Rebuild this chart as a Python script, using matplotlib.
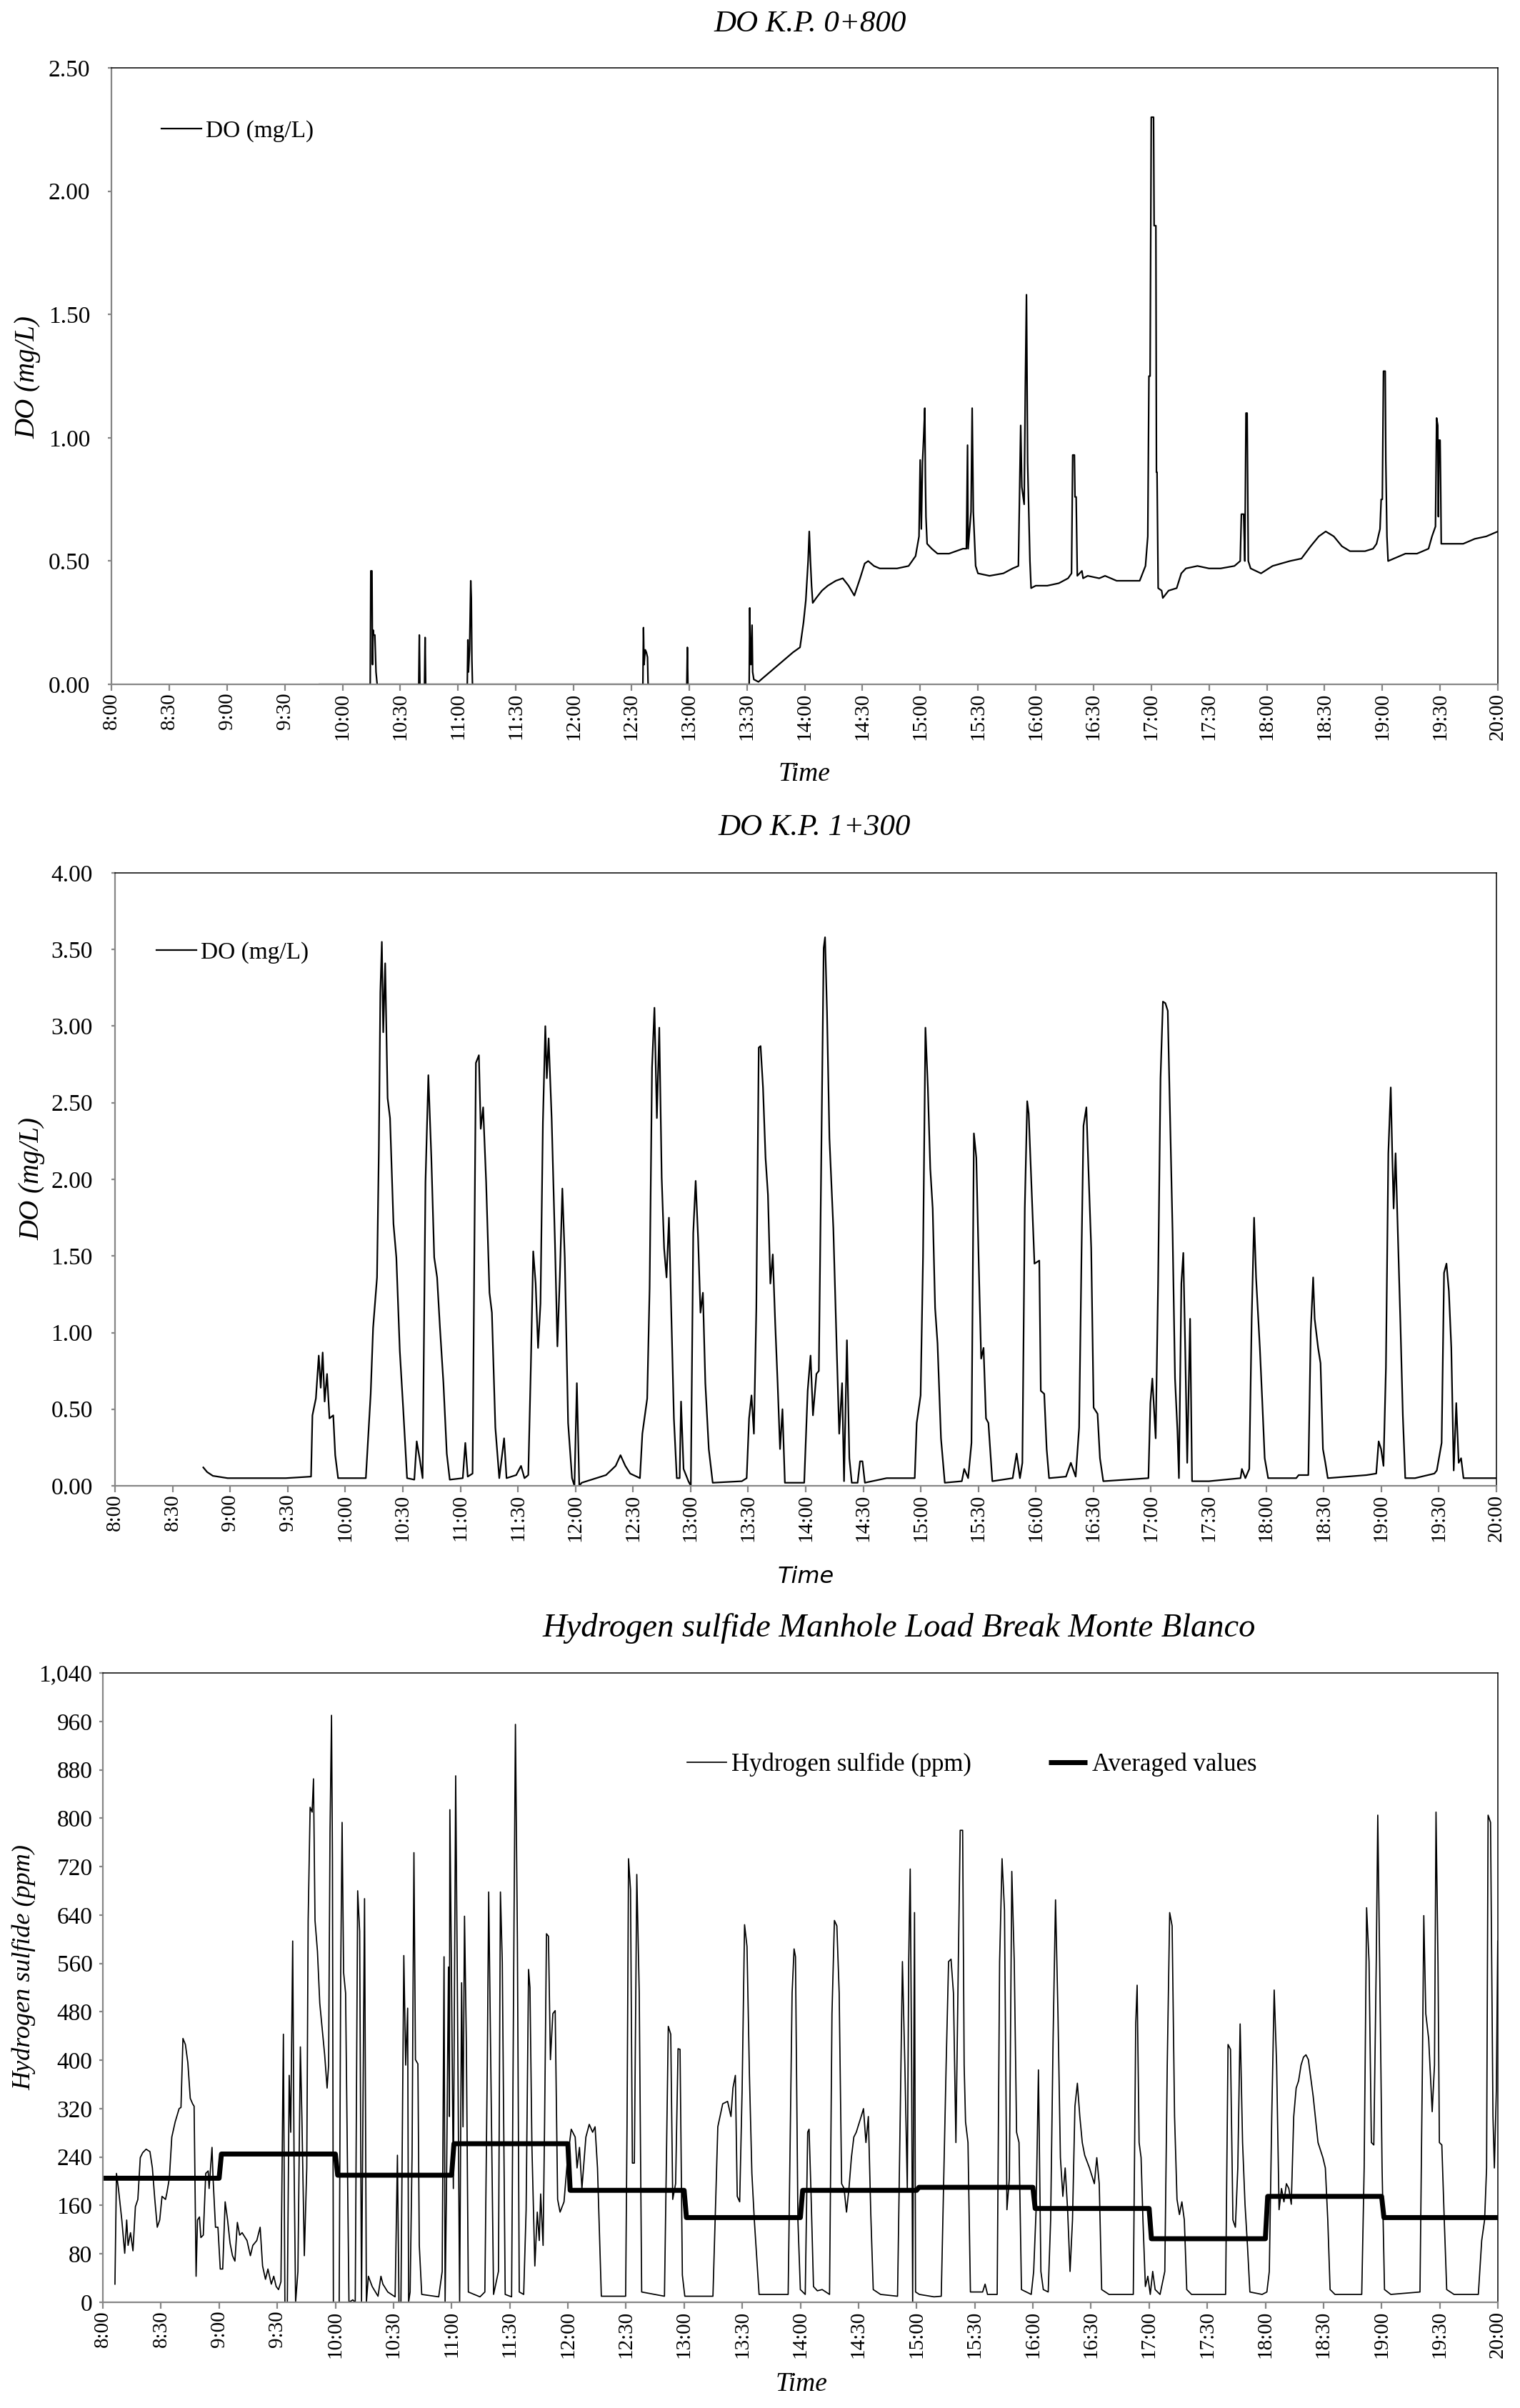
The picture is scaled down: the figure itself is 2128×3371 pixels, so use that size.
import matplotlib
matplotlib.use('Agg')
import matplotlib.pyplot as plt
from matplotlib.ticker import FuncFormatter
import numpy as np

plt.rcParams['font.family'] = ['Liberation Serif', 'DejaVu Serif']

# ---- DO K.P. 0+800 (hour of day, mg/L)
do1_points = [
    (9.80, 0.0), (10.24, 0.0), (10.245, 0.46), (10.255, 0.46), (10.26, 0.08), (10.265, 0.22),
    (10.27, 0.20), (10.28, 0.20), (10.29, 0.05), (10.30, 0.0), (10.66, 0.0), (10.665, 0.20),
    (10.67, 0.0), (10.71, 0.0), (10.715, 0.19), (10.72, 0.0), (11.08, 0.0), (11.085, 0.18),
    (11.09, 0.05), (11.10, 0.14), (11.11, 0.42), (11.115, 0.35), (11.12, 0.10), (11.125, 0.0),
    (12.60, 0.0), (12.605, 0.23), (12.61, 0.08), (12.62, 0.14), (12.63, 0.13), (12.64, 0.11),
    (12.645, 0.0), (12.98, 0.0), (12.985, 0.15), (12.99, 0.0), (13.52, 0.0), (13.525, 0.31),
    (13.53, 0.10), (13.535, 0.08), (13.545, 0.24), (13.55, 0.05), (13.56, 0.02), (13.60, 0.01),
    (13.70, 0.05), (13.80, 0.09), (13.90, 0.13), (13.96, 0.15), (13.99, 0.25), (14.01, 0.34),
    (14.03, 0.50), (14.04, 0.62), (14.05, 0.50), (14.06, 0.40), (14.07, 0.33), (14.10, 0.35),
    (14.15, 0.38), (14.20, 0.40), (14.27, 0.42), (14.33, 0.43), (14.38, 0.40), (14.43, 0.36),
    (14.48, 0.43), (14.52, 0.49), (14.55, 0.50), (14.60, 0.48), (14.65, 0.47), (14.80, 0.47),
    (14.90, 0.48), (14.96, 0.52), (14.99, 0.60), (15.00, 0.91), (15.01, 0.63), (15.02, 0.90),
    (15.03, 1.00), (15.04, 1.12), (15.045, 0.84), (15.05, 0.68), (15.06, 0.57), (15.10, 0.55),
    (15.15, 0.53), (15.25, 0.53), (15.37, 0.55), (15.40, 0.55), (15.41, 0.97), (15.415, 0.55),
    (15.44, 0.70), (15.45, 1.12), (15.46, 0.70), (15.48, 0.48), (15.50, 0.45), (15.60, 0.44),
    (15.72, 0.45), (15.80, 0.47), (15.85, 0.48), (15.87, 1.05), (15.88, 0.80), (15.90, 0.73),
    (15.91, 1.20), (15.92, 1.58), (15.93, 0.90), (15.95, 0.50), (15.96, 0.39), (16.00, 0.40),
    (16.10, 0.40), (16.20, 0.41), (16.28, 0.43), (16.31, 0.45), (16.32, 0.93), (16.335, 0.93),
    (16.34, 0.76), (16.35, 0.76), (16.36, 0.44), (16.40, 0.46), (16.41, 0.43), (16.45, 0.44),
    (16.55, 0.43), (16.60, 0.44), (16.70, 0.42), (16.90, 0.42), (16.95, 0.48), (16.97, 0.60),
    (16.98, 1.25), (16.99, 1.25), (17.00, 2.30), (17.02, 2.30), (17.025, 1.86), (17.04, 1.86),
    (17.045, 0.86), (17.05, 0.86), (17.06, 0.39), (17.09, 0.38), (17.10, 0.35), (17.15, 0.38),
    (17.22, 0.39), (17.26, 0.45), (17.30, 0.47), (17.40, 0.48), (17.50, 0.47), (17.60, 0.47),
    (17.72, 0.48), (17.77, 0.50), (17.78, 0.69), (17.80, 0.69), (17.81, 0.50), (17.82, 1.10),
    (17.83, 1.10), (17.84, 0.50), (17.86, 0.47), (17.95, 0.45), (18.05, 0.48), (18.20, 0.50),
    (18.30, 0.51), (18.38, 0.56), (18.45, 0.60), (18.51, 0.62), (18.58, 0.60), (18.65, 0.56),
    (18.72, 0.54), (18.85, 0.54), (18.92, 0.55), (18.95, 0.57), (18.98, 0.63), (18.99, 0.75),
    (19.00, 0.75), (19.01, 1.27), (19.025, 1.27), (19.03, 0.91), (19.04, 0.60), (19.05, 0.50),
    (19.10, 0.51), (19.20, 0.53), (19.30, 0.53), (19.40, 0.55), (19.43, 0.60), (19.46, 0.64),
    (19.47, 1.08), (19.48, 1.05), (19.485, 0.68), (19.49, 0.99), (19.50, 0.99), (19.505, 0.80),
    (19.51, 0.57), (19.60, 0.57), (19.70, 0.57), (19.80, 0.59), (19.90, 0.60), (20.00, 0.62),
]

# ---- DO K.P. 1+300
do2_points = [
    (8.767, 0.12), (8.80, 0.09), (8.85, 0.065), (8.978, 0.05), (9.483, 0.05), (9.703, 0.06),
    (9.715, 0.46), (9.745, 0.57), (9.770, 0.85), (9.787, 0.64), (9.804, 0.87), (9.821, 0.55),
    (9.842, 0.73), (9.863, 0.44), (9.896, 0.46), (9.913, 0.20), (9.938, 0.05), (10.179, 0.05),
    (10.221, 0.60), (10.242, 1.03), (10.276, 1.36), (10.292, 2.20), (10.305, 3.22), (10.318, 3.55),
    (10.330, 2.96), (10.347, 3.41), (10.368, 2.53), (10.389, 2.40), (10.419, 1.71), (10.444, 1.49),
    (10.474, 0.88), (10.503, 0.51), (10.537, 0.05), (10.600, 0.04), (10.621, 0.29), (10.646, 0.18),
    (10.672, 0.05), (10.697, 1.98), (10.722, 2.68), (10.748, 2.14), (10.773, 1.49), (10.798, 1.36),
    (10.823, 1.03), (10.853, 0.67), (10.882, 0.21), (10.908, 0.04), (11.021, 0.05), (11.043, 0.28),
    (11.064, 0.06), (11.106, 0.08), (11.135, 2.76), (11.161, 2.81), (11.177, 2.33), (11.198, 2.47),
    (11.224, 1.98), (11.253, 1.26), (11.274, 1.13), (11.304, 0.38), (11.338, 0.05), (11.380, 0.31),
    (11.401, 0.05), (11.485, 0.07), (11.527, 0.13), (11.557, 0.05), (11.590, 0.07), (11.612, 0.77),
    (11.633, 1.53), (11.654, 1.32), (11.675, 0.90), (11.696, 1.19), (11.717, 2.37), (11.738, 3.00),
    (11.751, 2.66), (11.767, 2.92), (11.793, 2.40), (11.822, 1.58), (11.843, 0.91), (11.864, 1.36),
    (11.886, 1.94), (11.907, 1.49), (11.936, 0.41), (11.970, 0.05), (11.991, 0.00), (12.012, 0.67),
    (12.033, 0.00), (12.054, 0.02), (12.265, 0.07), (12.349, 0.13), (12.391, 0.20), (12.433, 0.13),
    (12.475, 0.08), (12.560, 0.05), (12.581, 0.34), (12.623, 0.57), (12.644, 1.29), (12.665, 2.73),
    (12.686, 3.12), (12.707, 2.40), (12.728, 2.99), (12.749, 2.01), (12.770, 1.55), (12.791, 1.36),
    (12.812, 1.75), (12.834, 1.09), (12.855, 0.44), (12.880, 0.05), (12.905, 0.05), (12.917, 0.55),
    (12.939, 0.11), (12.981, 0.03), (13.002, 0.00), (13.023, 1.65), (13.044, 1.99), (13.065, 1.62),
    (13.086, 1.13), (13.107, 1.26), (13.128, 0.67), (13.158, 0.24), (13.192, 0.02), (13.445, 0.03),
    (13.487, 0.05), (13.508, 0.44), (13.529, 0.59), (13.550, 0.34), (13.571, 1.16), (13.592, 2.86),
    (13.608, 2.87), (13.629, 2.60), (13.651, 2.14), (13.672, 1.90), (13.693, 1.32), (13.714, 1.51),
    (13.735, 1.06), (13.756, 0.67), (13.777, 0.24), (13.798, 0.50), (13.819, 0.02), (13.987, 0.02),
    (14.017, 0.62), (14.042, 0.85), (14.063, 0.46), (14.093, 0.73), (14.114, 0.75), (14.135, 2.14),
    (14.156, 3.51), (14.168, 3.58), (14.185, 3.09), (14.206, 2.27), (14.240, 1.68), (14.269, 0.90),
    (14.291, 0.34), (14.316, 0.67), (14.333, 0.03), (14.358, 0.95), (14.379, 0.18), (14.400, 0.02),
    (14.451, 0.02), (14.472, 0.16), (14.493, 0.16), (14.514, 0.02), (14.703, 0.05), (14.947, 0.05),
    (14.964, 0.41), (14.998, 0.59), (15.019, 1.49), (15.040, 2.99), (15.061, 2.60), (15.082, 2.07),
    (15.103, 1.81), (15.124, 1.16), (15.145, 0.93), (15.175, 0.31), (15.208, 0.02), (15.356, 0.03),
    (15.377, 0.11), (15.411, 0.05), (15.440, 0.28), (15.461, 2.30), (15.482, 2.14), (15.503, 1.45),
    (15.524, 0.83), (15.545, 0.90), (15.566, 0.44), (15.587, 0.41), (15.621, 0.03), (15.798, 0.05),
    (15.832, 0.21), (15.861, 0.05), (15.882, 0.15), (15.903, 1.81), (15.924, 2.51), (15.937, 2.43),
    (15.987, 1.45), (16.029, 1.47), (16.042, 0.62), (16.072, 0.60), (16.093, 0.24), (16.114, 0.05),
    (16.261, 0.06), (16.303, 0.15), (16.345, 0.06), (16.375, 0.38), (16.396, 1.52), (16.413, 2.35),
    (16.438, 2.47), (16.455, 2.09), (16.480, 1.55), (16.501, 0.51), (16.535, 0.47), (16.556, 0.18),
    (16.585, 0.03), (16.977, 0.05), (16.994, 0.54), (17.011, 0.70), (17.040, 0.31), (17.061, 1.32),
    (17.082, 2.66), (17.103, 3.16), (17.124, 3.15), (17.145, 3.10), (17.166, 2.38), (17.187, 1.65),
    (17.208, 0.70), (17.229, 0.36), (17.242, 0.05), (17.263, 1.32), (17.280, 1.52), (17.297, 0.88),
    (17.314, 0.15), (17.339, 1.09), (17.356, 0.03), (17.503, 0.03), (17.777, 0.05), (17.789, 0.11),
    (17.819, 0.05), (17.853, 0.11), (17.874, 1.09), (17.895, 1.75), (17.912, 1.36), (17.945, 0.90),
    (17.966, 0.55), (17.987, 0.18), (18.017, 0.05), (18.261, 0.05), (18.282, 0.07), (18.366, 0.07),
    (18.387, 1.01), (18.408, 1.36), (18.421, 1.09), (18.451, 0.90), (18.472, 0.80), (18.493, 0.24),
    (18.514, 0.15), (18.535, 0.05), (18.872, 0.07), (18.956, 0.08), (18.977, 0.29), (18.998, 0.24),
    (19.019, 0.13), (19.040, 0.77), (19.061, 2.17), (19.082, 2.60), (19.095, 2.17), (19.107, 1.81),
    (19.124, 2.17), (19.145, 1.62), (19.166, 1.06), (19.187, 0.46), (19.208, 0.05), (19.293, 0.05),
    (19.461, 0.08), (19.482, 0.10), (19.524, 0.28), (19.545, 1.39), (19.566, 1.45), (19.587, 1.27),
    (19.608, 0.90), (19.629, 0.10), (19.651, 0.54), (19.672, 0.15), (19.693, 0.18), (19.714, 0.05),
    (20.000, 0.05),
]

# ---- Hydrogen sulfide (ppm)
h2s_points = [
    (8.104, 30), (8.117, 213), (8.134, 188), (8.163, 136), (8.188, 81), (8.205, 136), (8.217, 94),
    (8.238, 115), (8.259, 85), (8.280, 158), (8.301, 170), (8.322, 239), (8.342, 247), (8.372, 253),
    (8.405, 249), (8.426, 222), (8.447, 170), (8.468, 124), (8.489, 136), (8.509, 175), (8.539, 170),
    (8.551, 181), (8.572, 205), (8.593, 273), (8.622, 298), (8.656, 320), (8.672, 322), (8.689, 436),
    (8.710, 426), (8.731, 396), (8.752, 337), (8.772, 328), (8.785, 324), (8.793, 188), (8.802, 43),
    (8.814, 136), (8.831, 141), (8.843, 107), (8.864, 111), (8.885, 213), (8.906, 217), (8.914, 188),
    (8.939, 256), (8.948, 205), (8.969, 124), (8.990, 124), (9.010, 55), (9.031, 55), (9.052, 166),
    (9.073, 136), (9.094, 98), (9.115, 77), (9.136, 68), (9.157, 132), (9.177, 111), (9.198, 115),
    (9.240, 102), (9.269, 77), (9.290, 94), (9.324, 102), (9.353, 124), (9.374, 60), (9.399, 38),
    (9.420, 55), (9.449, 30), (9.470, 43), (9.491, 26), (9.511, 21), (9.532, 34), (9.553, 443),
    (9.566, 0), (9.587, 0), (9.603, 375), (9.616, 281), (9.633, 597), (9.645, 230), (9.658, 0),
    (9.678, 51), (9.699, 422), (9.712, 307), (9.733, 77), (9.754, 222), (9.766, 631), (9.783, 818),
    (9.800, 810), (9.812, 865), (9.825, 631), (9.846, 580), (9.866, 494), (9.887, 452), (9.908, 409),
    (9.929, 354), (9.942, 392), (9.954, 776), (9.967, 970), (9.975, 733), (9.983, 0), (10.033, 0),
    (10.046, 545), (10.058, 793), (10.071, 545), (10.088, 511), (10.117, 0), (10.150, 4), (10.171, 0),
    (10.192, 680), (10.209, 613), (10.225, 0), (10.251, 667), (10.267, 0), (10.284, 43), (10.317, 26),
    (10.367, 10), (10.392, 43), (10.409, 30), (10.451, 17), (10.514, 9), (10.534, 243), (10.547, 0),
    (10.564, 0), (10.589, 573), (10.605, 392), (10.622, 486), (10.630, 0), (10.643, 17), (10.660, 243),
    (10.668, 505), (10.676, 743), (10.689, 401), (10.710, 394), (10.722, 94), (10.743, 13), (10.889, 9),
    (10.919, 51), (10.935, 571), (10.944, 0), (10.956, 188), (10.973, 554), (10.981, 307), (10.985, 814),
    (10.998, 562), (11.015, 188), (11.035, 870), (11.048, 562), (11.069, 0), (11.086, 528), (11.098, 290),
    (11.111, 638), (11.127, 426), (11.144, 17), (11.244, 9), (11.286, 17), (11.307, 392), (11.319, 678),
    (11.336, 409), (11.361, 13), (11.403, 51), (11.420, 678), (11.436, 562), (11.461, 13), (11.516, 9),
    (11.537, 631), (11.549, 955), (11.566, 597), (11.582, 17), (11.620, 13), (11.641, 153), (11.662, 550),
    (11.674, 520), (11.691, 256), (11.716, 60), (11.737, 149), (11.754, 102), (11.766, 179), (11.787, 94),
    (11.800, 298), (11.816, 609), (11.833, 605), (11.850, 401), (11.871, 477), (11.891, 482), (11.912, 170),
    (11.933, 149), (11.967, 166), (11.996, 234), (12.029, 286), (12.063, 273), (12.079, 222), (12.100, 256),
    (12.121, 188), (12.155, 273), (12.184, 294), (12.213, 281), (12.234, 290), (12.255, 222), (12.288, 10),
    (12.497, 10), (12.509, 290), (12.522, 733), (12.539, 682), (12.555, 230), (12.572, 230), (12.593, 707),
    (12.614, 511), (12.635, 17), (12.831, 10), (12.852, 290), (12.864, 456), (12.885, 443), (12.902, 170),
    (12.927, 196), (12.948, 419), (12.965, 418), (12.985, 45), (13.006, 10), (13.248, 10), (13.290, 290),
    (13.332, 328), (13.374, 332), (13.403, 307), (13.420, 354), (13.441, 375), (13.457, 175), (13.478, 166),
    (13.499, 350), (13.520, 624), (13.541, 588), (13.562, 375), (13.583, 213), (13.604, 136), (13.645, 13),
    (13.895, 13), (13.929, 511), (13.946, 584), (13.958, 571), (13.979, 136), (14.000, 21), (14.042, 13),
    (14.063, 281), (14.075, 286), (14.092, 179), (14.113, 26), (14.146, 19), (14.188, 21), (14.251, 13),
    (14.272, 477), (14.293, 631), (14.314, 622), (14.334, 511), (14.355, 196), (14.376, 188), (14.397, 149),
    (14.418, 188), (14.439, 239), (14.460, 273), (14.481, 281), (14.502, 294), (14.523, 307), (14.543, 320),
    (14.564, 264), (14.585, 307), (14.606, 145), (14.627, 21), (14.690, 13), (14.836, 10), (14.857, 281),
    (14.878, 563), (14.899, 392), (14.920, 188), (14.932, 563), (14.945, 716), (14.957, 392), (14.966, 0),
    (14.982, 644), (14.991, 17), (15.024, 13), (15.150, 9), (15.212, 10), (15.254, 392), (15.275, 563),
    (15.296, 567), (15.317, 511), (15.338, 264), (15.359, 563), (15.375, 780), (15.396, 780), (15.409, 392),
    (15.421, 298), (15.442, 264), (15.463, 17), (15.568, 17), (15.589, 30), (15.610, 13), (15.693, 13),
    (15.714, 563), (15.735, 733), (15.756, 648), (15.777, 153), (15.798, 205), (15.819, 712), (15.840, 563),
    (15.860, 281), (15.881, 264), (15.902, 21), (15.986, 13), (16.007, 51), (16.028, 153), (16.048, 384),
    (16.069, 51), (16.090, 21), (16.132, 17), (16.153, 136), (16.174, 435), (16.195, 665), (16.216, 477),
    (16.237, 239), (16.258, 175), (16.278, 222), (16.299, 153), (16.320, 51), (16.341, 136), (16.362, 324),
    (16.383, 362), (16.404, 307), (16.425, 264), (16.446, 243), (16.487, 222), (16.529, 196), (16.550, 239),
    (16.571, 196), (16.592, 21), (16.655, 13), (16.864, 13), (16.885, 460), (16.897, 524), (16.914, 264),
    (16.931, 239), (16.947, 136), (16.968, 26), (16.989, 43), (17.010, 13), (17.031, 51), (17.052, 21),
    (17.094, 13), (17.135, 51), (17.156, 392), (17.177, 644), (17.198, 622), (17.219, 307), (17.240, 170),
    (17.261, 145), (17.282, 166), (17.303, 136), (17.324, 21), (17.365, 13), (17.658, 13), (17.679, 426),
    (17.700, 418), (17.721, 136), (17.742, 124), (17.763, 222), (17.783, 460), (17.804, 264), (17.825, 162),
    (17.846, 94), (17.867, 17), (17.972, 13), (18.013, 17), (18.034, 51), (18.055, 307), (18.076, 516),
    (18.097, 392), (18.118, 153), (18.139, 188), (18.160, 166), (18.181, 196), (18.202, 188), (18.223, 162),
    (18.244, 307), (18.265, 354), (18.286, 366), (18.307, 392), (18.328, 405), (18.349, 409), (18.370, 401),
    (18.411, 341), (18.453, 264), (18.495, 239), (18.516, 222), (18.537, 136), (18.557, 21), (18.599, 13),
    (18.829, 13), (18.850, 222), (18.871, 652), (18.892, 563), (18.912, 264), (18.933, 260), (18.954, 563),
    (18.967, 805), (18.983, 563), (19.004, 222), (19.025, 21), (19.079, 13), (19.330, 17), (19.351, 392),
    (19.363, 639), (19.380, 477), (19.405, 435), (19.435, 315), (19.455, 392), (19.468, 810), (19.485, 562),
    (19.497, 264), (19.518, 260), (19.539, 136), (19.560, 21), (19.623, 13), (19.832, 13), (19.861, 102),
    (19.886, 136), (19.903, 222), (19.916, 805), (19.937, 793), (19.958, 307), (19.970, 222), (19.987, 350),
    (19.999, 597),
]

# hourly averaged H2S
avg_hours = [8, 9, 10, 11, 12, 13, 14, 15, 16, 17, 18, 19]
avg_values = [205, 245, 210, 262, 185, 140, 185, 190, 155, 105, 175, 140]

tick_hours = np.arange(8, 20.01, 0.5)
tick_labels = [f"{int(h)}:{'00' if h % 1 == 0 else '30'}" for h in tick_hours]

GRAY = '#868686'
W, H = 2128, 3371


def frame(left, top, right, bottom):
    return [left / W, 1 - bottom / H, (right - left) / W, (bottom - top) / H]


def style(ax, ypad):
    for s in ['left', 'bottom']:
        ax.spines[s].set_color(GRAY)
        ax.spines[s].set_linewidth(1.6)
    for s in ['top', 'right']:
        ax.spines[s].set_color('black')
        ax.spines[s].set_linewidth(1.1)
    ax.set_xlim(8, 20)
    ax.set_xticks(tick_hours)
    ax.set_xticklabels(tick_labels, rotation=90)
    ax.tick_params(axis='x', direction='out', length=6.5, width=1.6, color=GRAY,
                   pad=2, labelsize=21)
    ax.tick_params(axis='y', direction='out', length=3.5, width=1.6, color=GRAY,
                   pad=ypad, labelsize=24)


fig = plt.figure(figsize=(W / 100, H / 100), dpi=100)

# chart 1
ax1 = fig.add_axes(frame(156, 95, 2097, 958))
t, v = zip(*do1_points)
ax1.plot(t, v, color='black', lw=1.6, label='DO (mg/L)')
style(ax1, 18)
ax1.set_ylim(0, 2.5)
ax1.set_yticks(np.arange(0, 2.51, 0.5))
ax1.yaxis.set_major_formatter(FuncFormatter(lambda y, _: f"{y:.2f}"))
ax1.legend(loc='center left', bbox_to_anchor=(0.036, 0.897), frameon=False, fontsize=24,
           handlelength=1.67, handletextpad=0.2, borderpad=0, borderaxespad=0)
fig.text(1134 / W, 1 - 44 / H, 'DO K.P. 0+800', ha='center', va='baseline',
         style='italic', fontsize=31)
fig.text(1126 / W, 1 - 1093 / H, 'Time', ha='center', va='baseline',
         style='italic', fontsize=27)
fig.text(39 / W, 1 - 528 / H, 'DO (mg/L)', ha='center', va='center', rotation=90,
         style='italic', fontsize=28)

# chart 2
ax2 = fig.add_axes(frame(161, 1222, 2095, 2080))
t, v = zip(*do2_points)
ax2.plot(t, v, color='black', lw=1.6, label='DO (mg/L)')
style(ax2, 19)
ax2.set_ylim(0, 4)
ax2.set_yticks(np.arange(0, 4.01, 0.5))
ax2.yaxis.set_major_formatter(FuncFormatter(lambda y, _: f"{y:.2f}"))
ax2.legend(loc='center left', bbox_to_anchor=(0.030, 0.870), frameon=False, fontsize=24,
           handlelength=1.67, handletextpad=0.2, borderpad=0, borderaxespad=0)
fig.text(1140 / W, 1 - 1169 / H, 'DO K.P. 1+300', ha='center', va='baseline',
         style='italic', fontsize=31)
fig.text(1128 / W, 1 - 2216 / H, 'Time', ha='center', va='baseline',
         style='italic', fontsize=23, family=['DejaVu Sans'])
fig.text(45 / W, 1 - 1650 / H, 'DO (mg/L)', ha='center', va='center', rotation=90,
         style='italic', fontsize=28)

# chart 3
ax3 = fig.add_axes(frame(144, 2342, 2097, 3223))
t, v = zip(*h2s_points)
ax3.plot(t, v, color='black', lw=1.25, label='Hydrogen sulfide (ppm)')
ax_x, ax_y = [], []
for i, (h, val) in enumerate(zip(avg_hours, avg_values)):
    ax_x += [h + (0.02 if i else 0), h + 1]
    ax_y += [val, val]
ax3.plot(ax_x, ax_y, color='black', lw=5, solid_capstyle='butt', label='Averaged values')
style(ax3, 7)
ax3.set_ylim(0, 1040)
ax3.set_yticks(np.arange(0, 1041, 80))
ax3.yaxis.set_major_formatter(FuncFormatter(lambda y, _: f"{int(y):,}"))
ax3.legend(loc='center left', bbox_to_anchor=(0.419, 0.854), frameon=False, fontsize=25,
           ncol=2, handlelength=1.58, handletextpad=0.2, columnspacing=3.1,
           borderpad=0, borderaxespad=0)
fig.text(1259 / W, 1 - 2291 / H, 'Hydrogen sulfide Manhole Load Break Monte Blanco',
         ha='center', va='baseline', style='italic', fontsize=33.5)
fig.text(1122 / W, 1 - 3347 / H, 'Time', ha='center', va='baseline',
         style='italic', fontsize=27)
fig.text(34 / W, 1 - 2754 / H, 'Hydrogen sulfide (ppm)', ha='center', va='center',
         rotation=90, style='italic', fontsize=26)

fig.savefig('out.png', dpi=100)
